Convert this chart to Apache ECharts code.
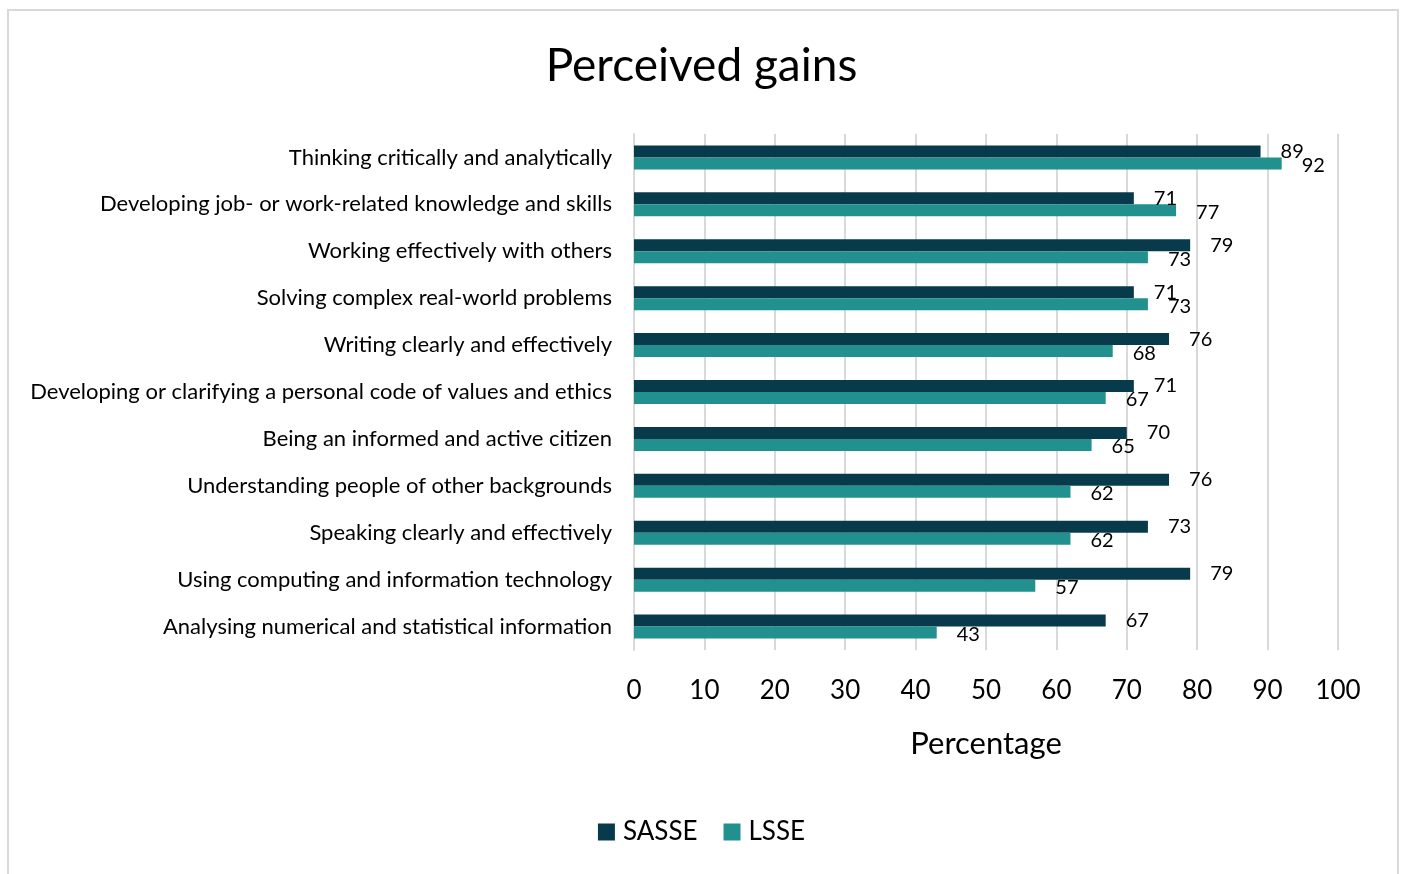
<!DOCTYPE html>
<html>
<head>
<meta charset="utf-8">
<script src="https://cdn.jsdelivr.net/npm/echarts@6/dist/echarts.min.js"></script>
<style>
  html, body { margin: 0; padding: 0; background: #fff; }
  #chart { width: 1403px; height: 874px; }
</style>
</head>
<body>
<div id="chart"></div>
<script>
const categories = [
  'Thinking critically and analytically',
  'Developing job- or work-related knowledge and skills',
  'Working effectively with others',
  'Solving complex real-world problems',
  'Writing clearly and effectively',
  'Developing or clarifying a personal code of values and ethics',
  'Being an informed and active citizen',
  'Understanding people of other backgrounds',
  'Speaking clearly and effectively',
  'Using computing and information technology',
  'Analysing numerical and statistical information'
];
const sasse = [89, 71, 79, 71, 76, 71, 70, 76, 73, 79, 67];
const lsse = [92, 77, 73, 73, 68, 67, 65, 62, 62, 57, 43];

const font = 'Lato, "Open Sans", sans-serif';
const chart = echarts.init(document.getElementById('chart'));

chart.setOption({
  animation: false,
  textStyle: { fontFamily: font },
  title: {
    text: 'Perceived gains',
    left: 'center',
    top: 38,
    textStyle: { fontSize: 46, fontWeight: 'normal', color: '#000', fontFamily: font }
  },
  graphic: [{
    type: 'rect',
    shape: { x: 8, y: 10, width: 1390, height: 880 },
    style: { fill: 'none', stroke: '#d9d9d9', lineWidth: 2 }
  }],
  legend: {
    bottom: 24,
    left: 'center',
    itemWidth: 17,
    itemHeight: 17,
    itemGap: 26,
    icon: 'rect',
    textStyle: { fontSize: 26, color: '#000', fontFamily: font, padding: [0, 0, 0, 3] },
    data: ['SASSE', 'LSSE']
  },
  grid: { left: 634, right: 65, top: 134, height: 516, containLabel: false },
  xAxis: {
    type: 'value',
    min: 0,
    max: 100,
    interval: 10,
    name: 'Percentage',
    nameLocation: 'middle',
    nameGap: 78,
    nameTextStyle: { fontSize: 31, color: '#000', fontFamily: font },
    axisLabel: { fontSize: 26, color: '#000', margin: 28, fontFamily: font },
    axisLine: { show: false },
    axisTick: { show: false },
    splitLine: { lineStyle: { color: '#d9d9d9', width: 2 } }
  },
  yAxis: {
    type: 'category',
    data: categories,
    inverse: true,
    axisLabel: { fontSize: 22, color: '#000', margin: 22, fontFamily: font },
    axisLine: { lineStyle: { color: '#d9d9d9', width: 2 } },
    axisTick: { show: false }
  },
  series: [
    {
      name: 'SASSE',
      type: 'bar',
      data: sasse,
      barWidth: 12,
      barGap: '0%',
      itemStyle: { color: '#073b4c' },
      label: { show: true, position: 'right', distance: 20, fontSize: 20, color: '#000', fontFamily: font }
    },
    {
      name: 'LSSE',
      type: 'bar',
      data: lsse,
      barWidth: 12,
      barGap: '0%',
      itemStyle: { color: '#21908f' },
      label: { show: true, position: 'right', distance: 20, fontSize: 20, color: '#000', fontFamily: font, offset: [0, 2] }
    }
  ]
});
</script>
</body>
</html>
